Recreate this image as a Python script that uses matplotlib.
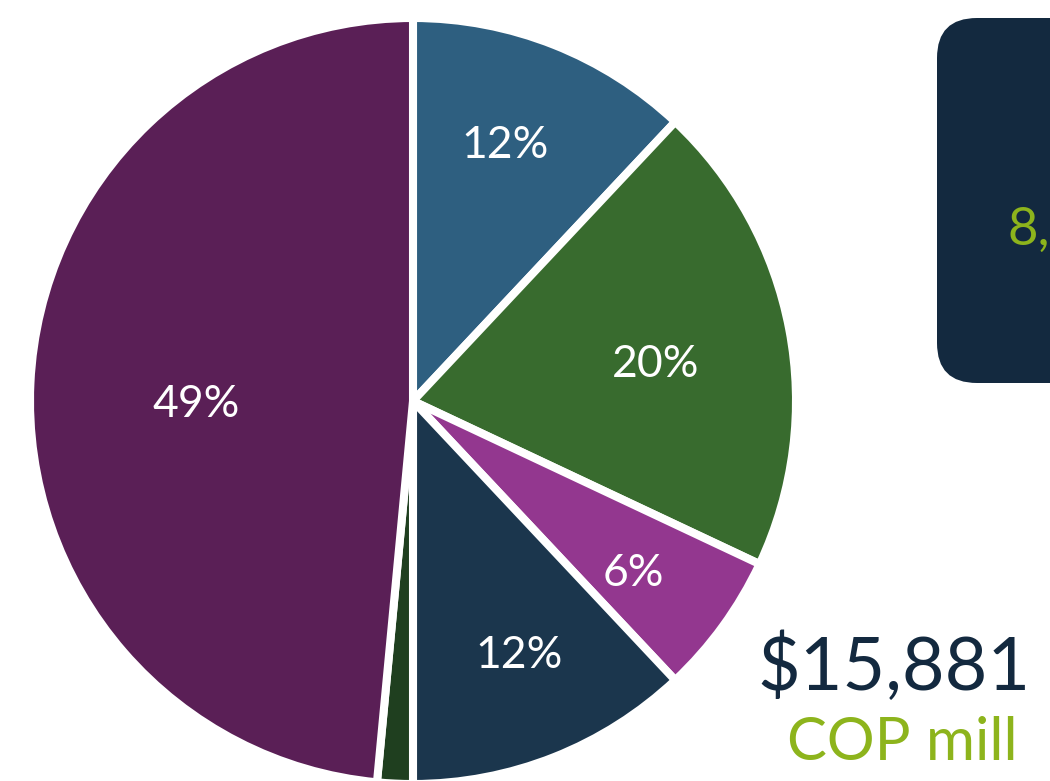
import matplotlib.pyplot as plt
import numpy as np
from matplotlib.patches import FancyBboxPatch

plt.rcParams['font.family'] = ['Lato', 'DejaVu Sans']

# shares (%) clockwise from the top
shares = [12, 20, 6, 12, 1.5, 48.5]
labels = ['12%', '20%', '6%', '12%', '', '49%']
colors = ['#2E5F80', '#386B2E', '#93378F', '#1B364D', '#1F3F1F', '#5A1F56']
# label placement: fraction of radius, angle tweak (deg, clockwise)
label_r = [0.71, 0.64, 0.73, 0.72, 0.0, 0.567]
label_dt = [-1.8, 2.3, 2.0, -1.0, 0.0, -3.7]

total_txt = '$15,881'
unit_txt = 'COP mill'
box_txt = '8,'

W, H = 1050, 781
fig = plt.figure(figsize=(W / 100, H / 100), dpi=100)
ax = fig.add_axes([0, 0, 1, 1])

cx, cy, R = 413, H - 401, 383
wedges, _ = ax.pie(shares, colors=colors, startangle=90, counterclock=False,
                   center=(cx, cy), radius=R, frame=True,
                   wedgeprops=dict(edgecolor='white', linewidth=5.8))
ax.set_xlim(0, W)
ax.set_ylim(0, H)
ax.set_aspect('equal')
ax.axis('off')

for w, lab, rf, dt in zip(wedges, labels, label_r, label_dt):
    if not lab:
        continue
    ang = np.deg2rad((w.theta1 + w.theta2) / 2 - dt)
    ax.text(cx + rf * R * np.cos(ang), cy + rf * R * np.sin(ang), lab,
            color='white', fontsize=32, ha='center', va='center')

# dark summary box (cropped at the right edge)
box = FancyBboxPatch((937 + 40, H - 383 + 40), 300, 365 - 80,
                     boxstyle='round,pad=40', facecolor='#13293F',
                     edgecolor='none', clip_on=False)
ax.add_patch(box)
ax.text(1008, H - 230, box_txt, color='#8DB41C', fontsize=38,
        ha='left', va='center')

ax.text(1031, H - 668, total_txt, color='#13293F', fontsize=53,
        ha='right', va='center')
ax.text(902, H - 743, unit_txt, color='#8DB41C', fontsize=43,
        ha='center', va='center')

fig.savefig('out.png', dpi=100)
